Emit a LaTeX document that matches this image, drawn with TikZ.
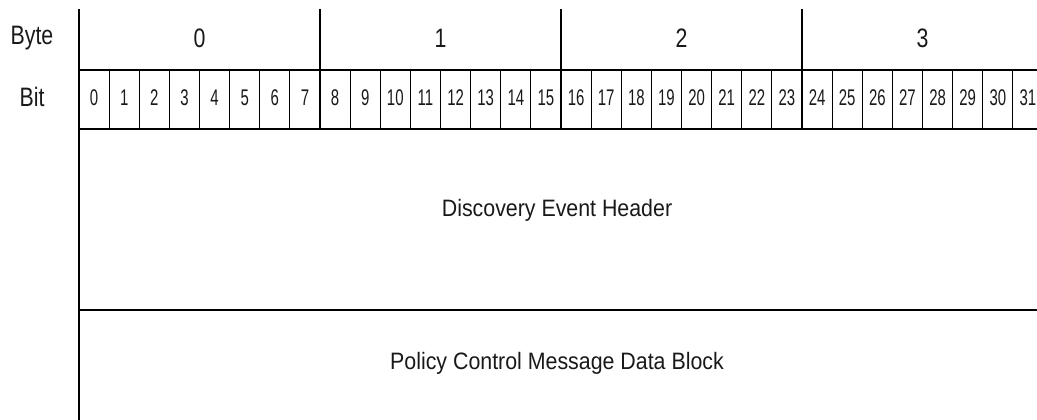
\documentclass[tikz,border=0pt]{standalone}
\usepackage{fontspec}
\setmainfont{Liberation Sans}
\newfontfamily\lblfont[FakeStretch=0.8]{Liberation Sans}
\newfontfamily\numfont[FakeStretch=0.66]{Liberation Sans}
\newfontfamily\txtfont[FakeStretch=0.9]{Liberation Sans}
\tikzset{
  thick rule/.style={line width=1.7pt, line cap=rect},
  thin rule/.style={line width=0.8pt},
  label text/.style={inner sep=0pt, font=\lblfont\fontsize{20}{22}\selectfont, text=black!90},
  bit text/.style={inner sep=0pt, font=\numfont\fontsize{17}{19}\selectfont, text=black!90},
  body text/.style={inner sep=0pt, font=\txtfont\fontsize{17.8}{20}\selectfont, text=black!90},
}
\begin{document}
\begin{tikzpicture}[x=0.75pt,y=-0.75pt]
\useasboundingbox (0,0) rectangle (1037,420);
\clip (0,0) rectangle (1037,420);
\def\bw{30.125}
% row labels
\node[label text] (byte) at (32,38) {Byte};
\node[label text] (bit) at (32,97) {Bit};
% thin bit separators
\foreach \i in {1,...,31}{
  \pgfmathsetmacro{\xx}{79+\i*\bw}
  \draw[thin rule] (\xx,70) -- (\xx,129);
}
% bit numbers
\foreach \i in {0,...,31}{
  \pgfmathsetmacro{\xx}{79+(\i+0.5)*\bw}
  \node[bit text] (b\i) at (\xx,98) {\i};
}
% byte numbers
\foreach \j in {0,1,2,3}{
  \pgfmathsetmacro{\xc}{79+(\j*8+4)*\bw}
  \node[label text] (B\j) at (\xc,38) {\j};
}
% byte separators
\foreach \j in {1,2,3}{
  \pgfmathsetmacro{\xx}{79+\j*8*\bw}
  \draw[thick rule] (\xx,10) -- (\xx,129);
}
% horizontal rules
\draw[thick rule] (79,70) -- (1045,70);
\draw[thick rule] (79,129) -- (1045,129);
\draw[thick rule] (79,310) -- (1045,310);
% left rule
\draw[thick rule] (79,10) -- (79,425);
% field texts
\node[body text] (hdr) at (557,210) {Discovery Event Header};
\node[body text] (pcm) at (557,363) {Policy Control Message Data Block};
\end{tikzpicture}
\end{document}
